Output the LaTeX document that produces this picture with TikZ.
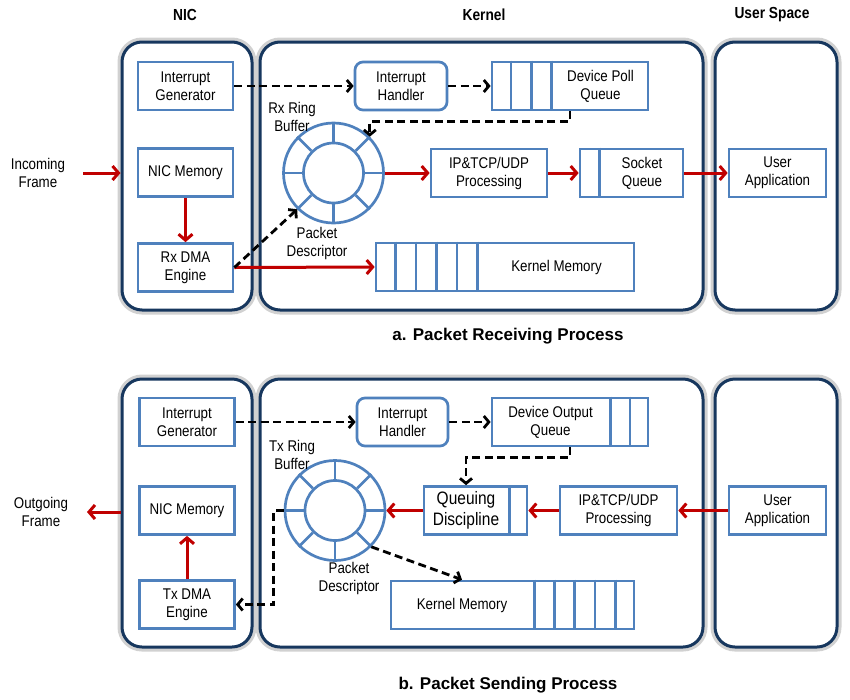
\documentclass[tikz,border=0pt]{standalone}
\usepackage{fontspec}
\setmainfont{Liberation Sans}[FakeStretch=0.86]
\newfontfamily\titlefont{Liberation Sans}
\usepackage{tikz}
\usetikzlibrary{arrows.meta}
\definecolor{boxblue}{RGB}{79,129,189}
\definecolor{zonenavy}{RGB}{23,55,94}
\definecolor{flowred}{RGB}{192,0,0}

\begin{document}
\begin{tikzpicture}[x=1pt,y=-1pt]
\tikzstyle{every node}+=[inner sep=0pt, align=center, font=\fontsize{15.5}{18}\selectfont]
\tikzstyle{zone}=[draw=zonenavy, line width=3pt, fill=white, rounded corners=20pt, preaction={draw=black!18, line width=9pt}]
\tikzstyle{box}=[draw=boxblue, line width=2.7pt, fill=white, minimum height=48pt]
\tikzstyle{rbox}=[box, rounded corners=8pt]
\tikzstyle{cell}=[draw=boxblue, line width=2.7pt]
\tikzstyle{ringnode}=[circle, draw=boxblue, line width=2.7pt, fill=white]
\tikzstyle{head}=[font=\fontsize{16}{18}\selectfont\bfseries]
\tikzstyle{caption}=[font=\titlefont\fontsize{17}{20}\selectfont\bfseries]
\tikzstyle{dasharrow}=[black, line width=2.8pt, dash pattern=on 8pt off 4.5pt, -{Straight Barb[length=5pt,width=12pt]}]
\tikzstyle{redarrow}=[flowred, line width=3pt, -{Straight Barb[length=6pt,width=14pt]}]
\useasboundingbox (0,0) rectangle (850,699);

\node [head] (nichd) at (185,15) {NIC};
\node [head] (kerhd) at (484,15) {Kernel};
\node [head] (usrhd) at (772,15) {User Space};

% a. receiving
\node [zone, minimum width=130pt, minimum height=268pt] (nicA) at (187,176) {};
\node [zone, minimum width=443pt, minimum height=268pt] (kerA) at (481.5,176) {};
\node [zone, minimum width=122pt, minimum height=268pt] (usrA) at (776,176) {};

\node [box, minimum width=95pt] (igenA) at (185.5,86) {Interrupt\\Generator};
\node [box, minimum width=95pt] (nmemA) at (185.5,172.5) {NIC Memory};
\node [box, minimum width=95pt] (rdma) at (185.5,267.5) {Rx DMA\\Engine};
\node [rbox, minimum width=92pt] (ihA) at (401,86) {Interrupt\\Handler};
\node [box, minimum width=156pt] (dpq) at (570,86) {};
\foreach \i in {1,2,3}
  \draw [cell] ([xshift=\i*20.3pt]dpq.north west) -- ([xshift=\i*20.3pt]dpq.south west);
\node (dpqt) at (600.5,86) {Device Poll\\Queue};
\node [ringnode, minimum size=100pt] (ringA) at (333.5,173) {};
\node [ringnode, minimum size=60pt] (ringAin) at (333.5,173) {};
\foreach \a in {0,45,...,315}
  \draw [cell] (ringAin.\a) -- (ringA.\a);
\node [box, minimum width=116pt] (ipA) at (489,173) {IP\&TCP/UDP\\Processing};
\node [box, minimum width=103pt] (sq) at (631.5,173) {};
\draw [cell] ([xshift=21pt]sq.north west) -- ([xshift=21pt]sq.south west);
\node (sqt) at (642,173) {Socket\\Queue};
\node [box, minimum width=97pt] (uaA) at (777.5,173) {User\\Application};
\node [box, minimum width=258pt] (kmA) at (505,267) {};
\foreach \i in {1,...,5}
  \draw [cell] ([xshift=\i*20.6pt]kmA.north west) -- ([xshift=\i*20.6pt]kmA.south west);
\node (kmAt) at (556.5,267) {Kernel Memory};
\node (rxlbl) at (292,117) {Rx Ring\\Buffer};
\node (pdA) at (317,243) {Packet\\Descriptor};
\node (inlbl) at (38,173) {Incoming\\Frame};
\coordinate (inA) at (83,173);
\node [caption] (capA) at (508,336) {a. Packet Receiving Process};

\draw [dasharrow] (igenA) -- (ihA);
\draw [dasharrow] (ihA) -- (dpq);
\draw [dasharrow] (dpq.south) -- ++(0,10) -| (ringA.north east);
\draw [redarrow] (inA) -- (inA -| nicA.west);
\draw [redarrow] (nmemA) -- (rdma);
\draw [redarrow] (rdma.east) -- (kmA.west);
\draw [dasharrow] (rdma.east) -- (ringA.south west);
\draw [redarrow] (ringA) -- (ipA);
\draw [redarrow] (ipA) -- (sq);
\draw [redarrow] (sq) -- (uaA);

% b. sending
\node [zone, minimum width=130pt, minimum height=268pt] (nicB) at (187,513) {};
\node [zone, minimum width=443pt, minimum height=268pt] (kerB) at (481.5,513) {};
\node [zone, minimum width=122pt, minimum height=268pt] (usrB) at (776,513) {};

\node [box, minimum width=95pt] (igenB) at (187,422) {Interrupt\\Generator};
\node [box, minimum width=95pt] (nmemB) at (187,510.5) {NIC Memory};
\node [box, minimum width=95pt] (tdma) at (187,604.5) {Tx DMA\\Engine};
\node [rbox, minimum width=91pt] (ihB) at (402.5,422) {Interrupt\\Handler};
\node [box, minimum width=156pt] (doq) at (570,422) {};
\foreach \i in {1,2}
  \draw [cell] ([xshift=-\i*19.5pt]doq.north east) -- ([xshift=-\i*19.5pt]doq.south east);
\node (doqt) at (550.5,422) {Device Output\\Queue};
\node [ringnode, minimum size=100pt] (ringB) at (335,510.5) {};
\node [ringnode, minimum size=60pt] (ringBin) at (335,510.5) {};
\foreach \a in {0,45,...,315}
  \draw [cell] (ringBin.\a) -- (ringB.\a);
\node [box, minimum width=103pt] (qd) at (475.5,510.5) {};
\draw [cell] ([xshift=-19pt]qd.north east) -- ([xshift=-19pt]qd.south east);
\node [font=\fontsize{18}{21}\selectfont] (qdt) at (466,510.5) {Queuing\\Discipline};
\node [box, minimum width=117pt] (ipB) at (618.5,510.5) {IP\&TCP/UDP\\Processing};
\node [box, minimum width=97pt] (uaB) at (777.5,510.5) {User\\Application};
\node [box, minimum width=243pt] (kmB) at (512.5,605) {};
\foreach \i in {1,...,5}
  \draw [cell] ([xshift=-\i*20.2pt]kmB.north east) -- ([xshift=-\i*20.2pt]kmB.south east);
\node (kmBt) at (462,605) {Kernel Memory};
\node (txlbl) at (292,455) {Tx Ring\\Buffer};
\node (pdB) at (349,578) {Packet\\Descriptor};
\node (outlbl) at (41,512) {Outgoing\\Frame};
\coordinate (outB) at (87,512);
\node [caption] (capB) at (508,685) {b. Packet Sending Process};

\draw [dasharrow] (igenB) -- (ihB);
\draw [dasharrow] (ihB) -- (doq);
\draw [dasharrow] (doq.south) -- ++(0,10) -| (qdt |- qd.north);
\draw [redarrow] (qd) -- (ringB);
\draw [redarrow] (ipB) -- (qd);
\draw [redarrow] (uaB) -- (ipB);
\draw [redarrow] (tdma) -- (nmemB);
\draw [redarrow] (outB -| nicB.west) -- (outB);
\draw [dasharrow] (ringB.west) -- ++(-10,0) |- (tdma.east);
\draw [dasharrow] (ringB.south east) -- (kmBt |- kmB.north);
\end{tikzpicture}
\end{document}
